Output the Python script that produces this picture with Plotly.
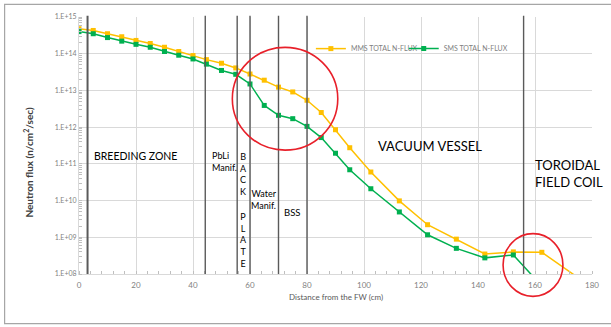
import plotly.graph_objects as go

# ---- data ----
x_mms = [0, 5, 10, 15, 20, 25, 30, 35, 40, 44.7, 50, 55, 60, 65, 70, 75, 80, 85, 90, 95,
         102.4, 112.4, 122.3, 132.4, 142.4, 152.4, 162.4, 182.4]
mms_flux = [4.8e14, 4.3e14, 3.5e14, 2.9e14, 2.3e14, 1.9e14, 1.5e14, 1.15e14, 8.9e13, 6.9e13,
            5.5e13, 4.1e13, 2.8e13, 1.9e13, 1.23e13, 9.1e12, 5.4e12, 2.5e12, 8.5e11, 2.75e11,
            6.0e10, 9.8e9, 2.2e9, 8.9e8, 3.5e8, 4.0e8, 3.9e8, 3.2e7]
x_sms = [0, 5, 10, 15, 20, 25, 30, 35, 40, 44.7, 50, 55, 60, 65, 70, 75, 80, 85, 90, 95,
         102.4, 112.4, 122.3, 132.4, 142.4, 152.4, 162.4]
sms_flux = [4.0e14, 3.5e14, 2.75e14, 2.2e14, 1.8e14, 1.5e14, 1.15e14, 9.1e13, 7.2e13, 5.2e13,
            3.5e13, 2.75e13, 1.5e13, 3.9e12, 2.1e12, 1.7e12, 1.05e12, 5.2e11, 1.95e11, 6.9e10,
            2.1e10, 4.9e9, 1.17e9, 5.0e8, 2.75e8, 3.3e8, 4.7e7]
series_names = ["MMS TOTAL N-FLUX", "SMS TOTAL N-FLUX"]
y_tickvals = [1e8, 1e9, 1e10, 1e11, 1e12, 1e13, 1e14, 1e15]
y_ticktext = ["1.E+08", "1.E+09", "1.E+10", "1.E+11", "1.E+12", "1.E+13", "1.E+14", "1.E+15"]
x_tickvals = [0, 20, 40, 60, 80, 100, 120, 140, 160, 180]
zone_boundaries = [3, 44.3, 55.5, 60, 70, 80, 156]

FONT = "Lato, 'Open Sans', sans-serif"
ORANGE = "#FFC000"
GREEN = "#00B050"

fig = go.Figure()
fig.add_trace(go.Scatter(x=x_mms, y=mms_flux, mode="lines+markers", name=series_names[0],
                         line=dict(color=ORANGE, width=1.5), legend="legend",
                         marker=dict(color=ORANGE, size=5, symbol="square")))
fig.add_trace(go.Scatter(x=x_sms, y=sms_flux, mode="lines+markers", name=series_names[1],
                         line=dict(color=GREEN, width=1.5), legend="legend2",
                         marker=dict(color=GREEN, size=5, symbol="square")))

# zone boundary lines
for i, xb in enumerate(zone_boundaries):
    fig.add_shape(type="line", xref="x", yref="paper", x0=xb, x1=xb, y0=0, y1=1.005,
                  line=dict(color="#5a5a5a", width=2 if i == 0 else 1.4), layer="above")

# red circles
fig.add_shape(type="circle", xref="x", yref="paper", x0=53.8, x1=90.8, y0=0.482, y1=0.882,
              line=dict(color="#E8202A", width=1.6), layer="above")
fig.add_shape(type="circle", xref="x", yref="paper", x0=148.8, x1=169.8, y0=-0.087, y1=0.157,
              line=dict(color="#E8202A", width=1.6), layer="above")

# outer frame
fig.add_shape(type="rect", xref="paper", yref="paper", x0=-0.145, x1=1.06, y0=-0.193, y1=1.049,
              line=dict(color="#a6a6a6", width=1.2))

def ann(text, x, y, size, xanchor="center", xref="x", color="#000000", **kw):
    fig.add_annotation(text=text, x=x, y=y, xref=xref, yref="paper", showarrow=False,
                       xanchor=xanchor, yanchor="middle",
                       font=dict(family=FONT, size=size, color=color), **kw)

ann("BREEDING ZONE", 19.8, 0.461, 10.5)
ann("PbLi<br>Manif.", 46.0, 0.437, 9, xanchor="left", align="left")
ann("B<br>A<br>C<br>K", 57.7, 0.388, 9)
ann("P<br>L<br>A<br>T<br>E", 57.7, 0.133, 9)
ann("Water<br>Manif.", 64.9, 0.289, 9, align="right")
ann("BSS", 74.9, 0.240, 9.5)
ann("VACUUM VESSEL", 123.3, 0.499, 13)
ann("TOROIDAL<br>FIELD COIL", 159.3, 0.392, 13, xanchor="left", align="left")

# axis titles
ann("<b>Neutron flux (n/cm<sup>2</sup>/sec)</b>", -0.0977, 0.437, 10, xref="paper",
    color="#404040", textangle=-90)
ann("Distance from the FW (cm)", 0.5, -0.088, 8, xref="paper", color="#595959")

legend_style = dict(orientation="h", y=0.877, xanchor="left", yanchor="middle",
                    font=dict(family=FONT, size=7, color="#7f7f7f"),
                    bgcolor="rgba(0,0,0,0)", itemwidth=30)

fig.update_layout(
    width=611, height=327,
    margin=dict(l=79, r=17, t=17, b=53),
    paper_bgcolor="white", plot_bgcolor="white",
    font=dict(family=FONT, color="#7f7f7f"),
    showlegend=True,
    legend=dict(x=0.452, **legend_style),
    legend2=dict(x=0.633, **legend_style),
)
fig.update_xaxes(range=[0, 180], tickvals=x_tickvals, showgrid=True, gridcolor="#d9d9d9",
                 gridwidth=1, showline=True, linecolor="#d9d9d9", linewidth=1, zeroline=False,
                 ticks="", tickfont=dict(size=8, color="#7f7f7f"), mirror=False,
                 ticklabelstandoff=3,
                 minor=dict(dtick=4, ticks="inside", ticklen=3, tickcolor="#bfbfbf", showgrid=False))
fig.update_yaxes(type="log", range=[8, 15], tickvals=y_tickvals, ticktext=y_ticktext,
                 showgrid=True, gridcolor="#d9d9d9", gridwidth=1, showline=True,
                 linecolor="#d9d9d9", linewidth=1, zeroline=False, ticks="",
                 tickfont=dict(size=7, color="#7f7f7f"),
                 minor=dict(dtick="D1", ticks="inside", ticklen=3, tickcolor="#bfbfbf",
                            showgrid=False))

fig.write_html("out.html")
